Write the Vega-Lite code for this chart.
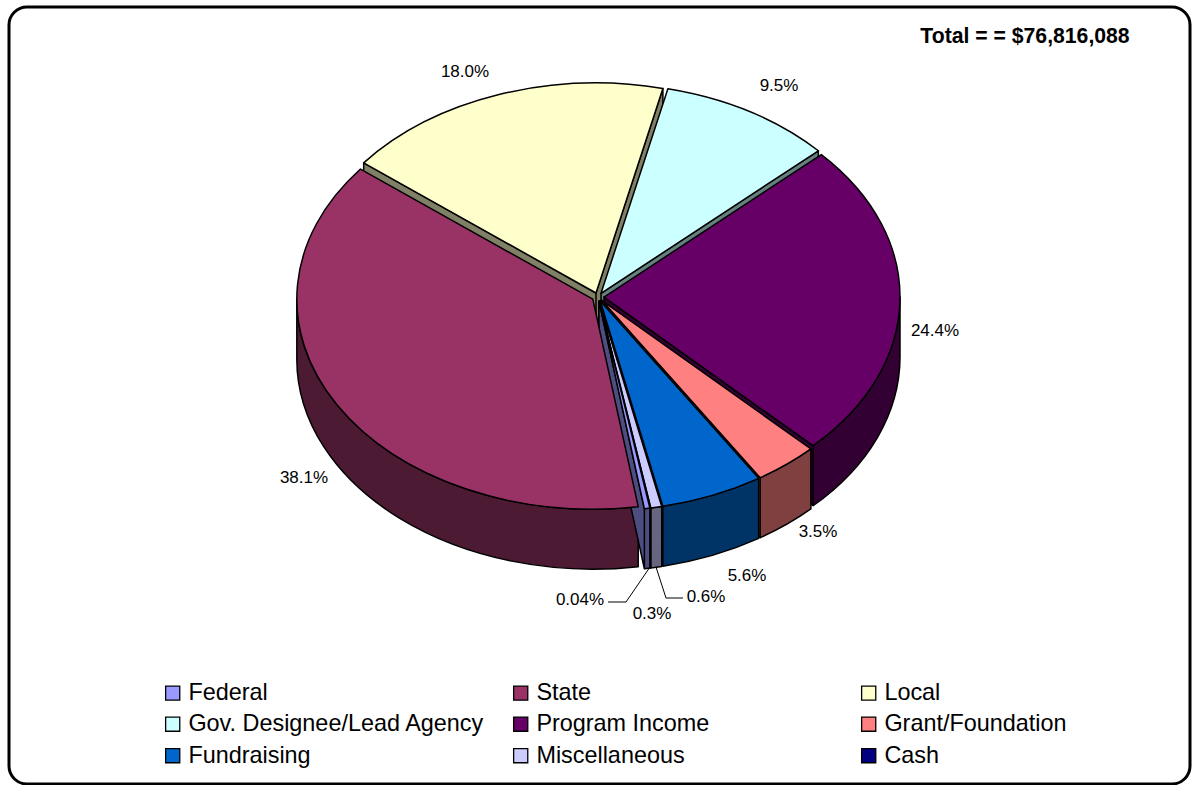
{
  "$schema": "https://vega.github.io/schema/vega-lite/v6.json",
  "width": 1181,
  "height": 777,
  "autosize": "none",
  "padding": {"left": 9, "top": 7, "right": 4, "bottom": 1},
  "background": "white",
  "view": {"stroke": "#000000", "strokeWidth": 3, "cornerRadius": 18, "fill": "white"},
  "config": {"font": "Liberation Sans"},
  "data": {
    "values": [
      {"source": "Federal", "share": 0.3},
      {"source": "State", "share": 38.1},
      {"source": "Local", "share": 18.0},
      {"source": "Gov. Designee/Lead Agency", "share": 9.5},
      {"source": "Program Income", "share": 24.4},
      {"source": "Grant/Foundation", "share": 3.5},
      {"source": "Fundraising", "share": 5.6},
      {"source": "Miscellaneous", "share": 0.6},
      {"source": "Cash", "share": 0.04}
    ]
  },
  "transform": [
    {"stack": "share", "offset": "zero", "groupby": [], "as": ["s0", "s1"]},
    {"calculate": "(170.1+datum.s0*360/100.04)*PI/180", "as": "a0raw"},
    {"calculate": "(170.1+datum.s1*360/100.04)*PI/180", "as": "a1raw"},
    {"calculate": "datum.a0raw>=2*PI?datum.a0raw-2*PI:datum.a0raw", "as": "a0"},
    {"calculate": "datum.a0+datum.a1raw-datum.a0raw", "as": "a1"},
    {"calculate": "(datum.a0+datum.a1)/2", "as": "mid"},
    {"calculate": "-cos(datum.mid)", "as": "depth"},
    {"calculate": "round(600*sin(datum.mid))/100", "as": "ox"},
    {"calculate": "-round(426*cos(datum.mid))/100", "as": "oy"},
    {"calculate": "round(100*(datum.ox+296*sin(datum.a0)))/100", "as": "x0"},
    {"calculate": "round(100*(datum.oy-210*cos(datum.a0)))/100", "as": "y0"},
    {"calculate": "round(100*(datum.ox+296*sin(datum.a1)))/100", "as": "x1"},
    {"calculate": "round(100*(datum.oy-210*cos(datum.a1)))/100", "as": "y1"},
    {"calculate": "max(datum.a0,PI/2)", "as": "b0"},
    {"calculate": "min(datum.a1,3*PI/2)", "as": "b1"},
    {"calculate": "round(100*(datum.ox+296*sin(datum.b0)))/100", "as": "bx0"},
    {"calculate": "round(100*(datum.oy-210*cos(datum.b0)))/100", "as": "by0"},
    {"calculate": "round(100*(datum.ox+296*sin(datum.b1)))/100", "as": "bx1"},
    {"calculate": "round(100*(datum.oy-210*cos(datum.b1)))/100", "as": "by1"},
    {"calculate": "'M'+datum.ox+','+datum.oy+'L'+datum.x0+','+datum.y0+'A296,210 0 '+(datum.a1-datum.a0>PI?1:0)+' 1 '+datum.x1+','+datum.y1+'Z'", "as": "topPath"},
    {"calculate": "(sin(datum.a0)<0?'M'+datum.ox+','+datum.oy+'L'+datum.x0+','+datum.y0+'L'+datum.x0+','+(datum.y0+60)+'L'+datum.ox+','+(datum.oy+60)+'Z':'')+(sin(datum.a1)>0?'M'+datum.ox+','+datum.oy+'L'+datum.x1+','+datum.y1+'L'+datum.x1+','+(datum.y1+60)+'L'+datum.ox+','+(datum.oy+60)+'Z':'')+(datum.b1>datum.b0?'M'+datum.bx0+','+datum.by0+'A296,210 0 0 1 '+datum.bx1+','+datum.by1+'L'+datum.bx1+','+(datum.by1+60)+'A296,210 0 0 0 '+datum.bx0+','+(datum.by0+60)+'Z':'')", "as": "wallPath"},
    {"calculate": "{'Federal':'#4D4D80','State':'#4D1A33','Local':'#808066','Gov. Designee/Lead Agency':'#668080','Program Income':'#330033','Grant/Foundation':'#804040','Fundraising':'#003366','Miscellaneous':'#666680','Cash':'#000040'}[datum.source]", "as": "wallColor"},
    {"calculate": "(datum.share<0.1?format(datum.share,'.2f'):format(datum.share,'.1f'))+'%'", "as": "shareText"},
    {"calculate": "{'Federal':54,'State':-294,'Local':-133,'Gov. Designee/Lead Agency':181,'Program Income':337,'Grant/Foundation':220,'Fundraising':149,'Miscellaneous':108,'Cash':-18}[datum.source]", "as": "labelX"},
    {"calculate": "{'Federal':317,'State':181,'Local':-225,'Gov. Designee/Lead Agency':-211,'Program Income':34,'Grant/Foundation':235,'Fundraising':279,'Miscellaneous':300,'Cash':303}[datum.source]", "as": "labelY"},
    {"calculate": "{'Cash':'M10,305L28,305L52,270','Miscellaneous':'M85,301L68,301L58,270'}[datum.source]", "as": "leader"}
  ],
  "layer": [
    {
      "mark": {"type": "point", "filled": true, "size": 4, "opacity": 1, "stroke": "#000000", "strokeWidth": 1.5, "strokeJoin": "round"},
      "encoding": {
        "x": {"datum": 0, "type": "quantitative", "axis": null, "scale": {"domain": [-589, 592], "nice": false, "zero": false}},
        "y": {"datum": 0, "type": "quantitative", "axis": null, "scale": {"domain": [487, -290], "nice": false, "zero": false}},
        "shape": {"field": "wallPath", "type": "nominal", "scale": null, "legend": null},
        "fill": {"field": "wallColor", "type": "nominal", "legend": null, "scale": null},
        "order": {"field": "depth", "type": "quantitative"}
      }
    },
    {
      "mark": {"type": "point", "filled": true, "size": 4, "opacity": 1, "stroke": "#000000", "strokeWidth": 1.5, "strokeJoin": "round"},
      "encoding": {
        "x": {"datum": 0, "type": "quantitative", "axis": null, "scale": {"domain": [-589, 592], "nice": false, "zero": false}},
        "y": {"datum": 0, "type": "quantitative", "axis": null, "scale": {"domain": [487, -290], "nice": false, "zero": false}},
        "shape": {"field": "topPath", "type": "nominal", "scale": null, "legend": null},
        "color": {
          "field": "source",
          "type": "nominal",
          "scale": {
            "domain": ["Federal", "State", "Local", "Gov. Designee/Lead Agency", "Program Income", "Grant/Foundation", "Fundraising", "Miscellaneous", "Cash"],
            "range": ["#9999FF", "#993366", "#FFFFCC", "#CCFFFF", "#660066", "#FF8080", "#0066CC", "#CCCCFF", "#000080"]
          },
          "legend": {
            "title": null,
            "orient": "none",
            "legendX": 152,
            "legendY": 674,
            "direction": "horizontal",
            "columns": 3,
            "gridAlign": "all",
            "columnPadding": 24,
            "rowPadding": 6.5,
            "symbolType": "square",
            "symbolSize": 200,
            "symbolStrokeColor": "#000000",
            "symbolStrokeWidth": 1.3,
            "symbolOpacity": 1,
            "labelFont": "Liberation Sans",
            "labelFontSize": 23.4,
            "labelColor": "#000000",
            "labelOffset": 4,
            "labelLimit": 400
          }
        },
        "order": {"field": "depth", "type": "quantitative"}
      }
    },
    {
      "transform": [{"filter": "isValid(datum.leader)"}],
      "mark": {"type": "point", "filled": false, "size": 4, "opacity": 1, "stroke": "#000000", "strokeWidth": 1},
      "encoding": {
        "x": {"datum": 0, "type": "quantitative", "axis": null, "scale": {"domain": [-589, 592], "nice": false, "zero": false}},
        "y": {"datum": 0, "type": "quantitative", "axis": null, "scale": {"domain": [487, -290], "nice": false, "zero": false}},
        "shape": {"field": "leader", "type": "nominal", "scale": null, "legend": null}
      }
    },
    {
      "mark": {"type": "text", "font": "Liberation Sans", "fontSize": 17, "color": "#000000", "align": "center", "baseline": "middle"},
      "encoding": {
        "x": {"field": "labelX", "type": "quantitative", "axis": null, "scale": {"domain": [-589, 592], "nice": false, "zero": false}},
        "y": {"field": "labelY", "type": "quantitative", "axis": null, "scale": {"domain": [487, -290], "nice": false, "zero": false}},
        "text": {"field": "shareText"}
      }
    },
    {
      "data": {"values": [{"note": "Total = = $76,816,088"}]},
      "mark": {"type": "text", "font": "Liberation Sans", "fontWeight": "bold", "fontSize": 21.2, "color": "#000000", "align": "center", "baseline": "middle"},
      "encoding": {
        "x": {"datum": 427, "type": "quantitative", "axis": null, "scale": {"domain": [-589, 592], "nice": false, "zero": false}},
        "y": {"datum": -260, "type": "quantitative", "axis": null, "scale": {"domain": [487, -290], "nice": false, "zero": false}},
        "text": {"field": "note"}
      }
    }
  ]
}
